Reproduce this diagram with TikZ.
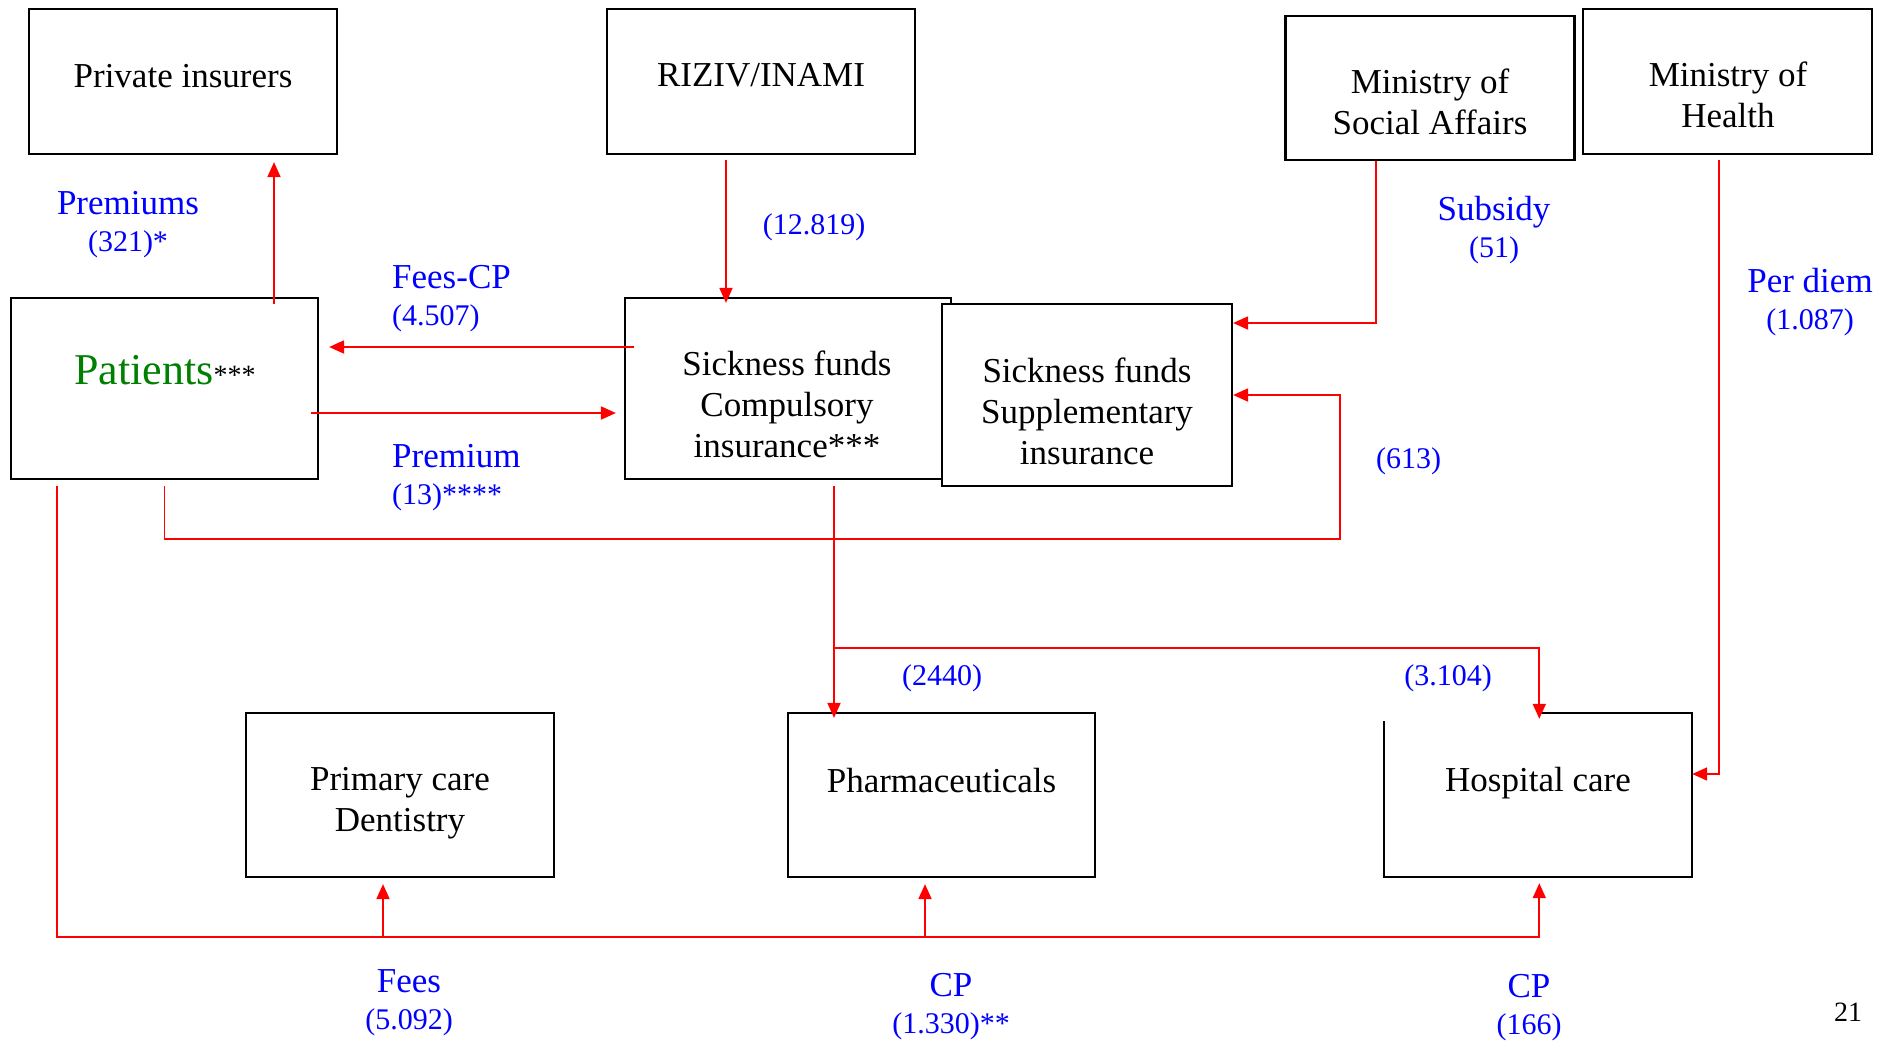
\documentclass[tikz,border=0pt]{standalone}
\usepackage{fontspec}
\setmainfont{Liberation Serif}
\usetikzlibrary{arrows.meta,calc}
\definecolor{lblblue}{RGB}{0,0,255}
\definecolor{flowred}{RGB}{255,0,0}
\definecolor{patgreen}{RGB}{0,128,0}
\newcommand{\wsz}{\fontsize{35}{37}\selectfont}
\newcommand{\nsz}{\fontsize{30}{37}\selectfont}
\begin{document}
\begin{tikzpicture}[x=1pt,y=-1pt,
  box/.style={draw=black,line width=2.2pt,fill=white,inner sep=0pt},
  boxtext/.style={align=center,font=\fontsize{35}{41}\selectfont,inner sep=0pt},
  lbl/.style={text=lblblue,align=center,inner sep=0pt,font=\wsz},
  flow/.style={draw=flowred,line width=1.8pt,-{Triangle[length=15pt,width=13pt]}}]
\useasboundingbox (0,0) rectangle (1894,1042);

% boxes
\node[box,minimum width=308pt,minimum height=145pt] (priv) at (183,81.5) {};
\node[box,minimum width=308pt,minimum height=145pt] (riziv) at (761,81.5) {};
\node[box,minimum width=289pt,minimum height=144pt] (mosa) at (1430,88) {};
\node[box,minimum width=289pt,minimum height=145pt] (moh) at (1727.5,81.5) {};
\node[box,minimum width=307pt,minimum height=181pt] (pat) at (164.5,388.5) {};
\node[box,minimum width=326pt,minimum height=181pt] (sfc) at (788,388.5) {};
\node[box,minimum width=290pt,minimum height=182pt] (sfs) at (1087,395) {};
\node[box,minimum width=308pt,minimum height=164pt] (prim) at (400,795) {};
\node[box,minimum width=307pt,minimum height=164pt] (pharm) at (941.5,795) {};
\node[inner sep=0pt,minimum width=308pt,minimum height=164pt] (hosp) at (1538,795) {};
\draw[line width=2.2pt] (hosp.north) -- (hosp.north east) -- (hosp.south east) -- (hosp.south west) -- ($(hosp.north west)+(0,8)$);

% box texts
\node[boxtext] (privt) at (183,76) {Private insurers};
\node[boxtext] (rizivt) at (761,75) {RIZIV/INAMI};
\node[boxtext] (mosat) at (1430,102) {Ministry of\\Social Affairs};
\node[boxtext] (moht) at (1728,95) {Ministry of\\Health};
\node[inner sep=0pt] (patt) at (165,370) {{\color{patgreen}\fontsize{44}{50}\selectfont Patients}{\fontsize{28}{30}\selectfont ***}};
\node[boxtext] (sfct) at (787,404) {Sickness funds\\Compulsory\\insurance***};
\node[boxtext] (sfst) at (1087,411) {Sickness funds\\Supplementary\\insurance};
\node[boxtext] (primt) at (400,803) {Primary care\\Dentistry};
\node[boxtext] (pharmt) at (941.5,781) {Pharmaceuticals};
\node[boxtext] (hospt) at (1538,783) {Hospital care};

% connectors
\draw[flow] ($(pat.north -| 274,0)+(0,7)$) -- ($(priv.south -| 274,0)+(0,7)$);
\draw[flow] ($(riziv.south -| 726,0)+(0,5)$) -- ($(sfc.north -| 726,0)+(0,6)$);
\draw[flow] ($(sfc.west |- 0,347)+(10,0)$) -- ($(pat.east |- 0,347)+(10,0)$);
\draw[flow] ($(pat.east |- 0,413)+(-8,0)$) -- ($(sfc.west |- 0,413)+(-8,0)$);
\draw[flow] (mosa.south -| 1375.6,0) |- (sfs.east |- 0,323);
\coordinate (loopa) at (1339.7,539);
\draw[flow] ($(pat.south)+(0,6)$) |- (loopa) |- (sfs.east |- 0,395);
\coordinate (botline) at (1539.3,937);
\draw[flow] ($(pat.south -| 57,0)+(0,6)$) |- (botline) -- ($(hosp.south -| 1539.3,0)+(0,6)$);
\coordinate (bprim) at (383,937);
\coordinate (bpharm) at (925,937);
\draw[flow] (bprim) -- ($(prim.south -| 383,0)+(0,6)$);
\draw[flow] (bpharm) -- ($(pharm.south -| 925,0)+(0,6)$);
\draw[flow] ($(sfc.south -| 834,0)+(0,6)$) -- ($(pharm.north -| 834,0)+(0,6)$);
\coordinate (branch) at (834,648);
\draw[flow] (branch) -| ($(hosp.north -| 1539.3,0)+(0,6)$);
\draw[flow] ($(moh.south -| 1718.8,0)+(0,5)$) |- (hosp.east |- 0,774);

% labels
\node[lbl] (l1) at (128,225) {Premiums\\{\nsz (321)*}};
\node[lbl,font=\nsz] (l2) at (814,227) {(12.819)};
\node[lbl,align=left,anchor=west] (l3) at (392,298.5) {Fees-CP\\{\nsz (4.507)}};
\node[lbl,align=left,anchor=west] (l4) at (392,477.5) {Premium\\{\nsz (13)****}};
\node[lbl] (l5) at (1494,230) {Subsidy\\{\nsz (51)}};
\node[lbl] (l6) at (1810,302) {Per diem\\{\nsz (1.087)}};
\node[lbl,font=\nsz] (l7) at (1408.5,461) {(613)};
\node[lbl,font=\nsz] (l8) at (942,678) {(2440)};
\node[lbl,font=\nsz] (l9) at (1448,678) {(3.104)};
\node[lbl] (l10) at (409,1002.5) {Fees\\{\nsz (5.092)}};
\node[lbl] (l11) at (951,1007) {CP\\{\nsz (1.330)**}};
\node[lbl] (l12) at (1529,1008) {CP\\{\nsz (166)}};
\node[inner sep=0pt,font=\fontsize{28}{30}\selectfont] (pg) at (1848,1012) {21};
\end{tikzpicture}
\end{document}
